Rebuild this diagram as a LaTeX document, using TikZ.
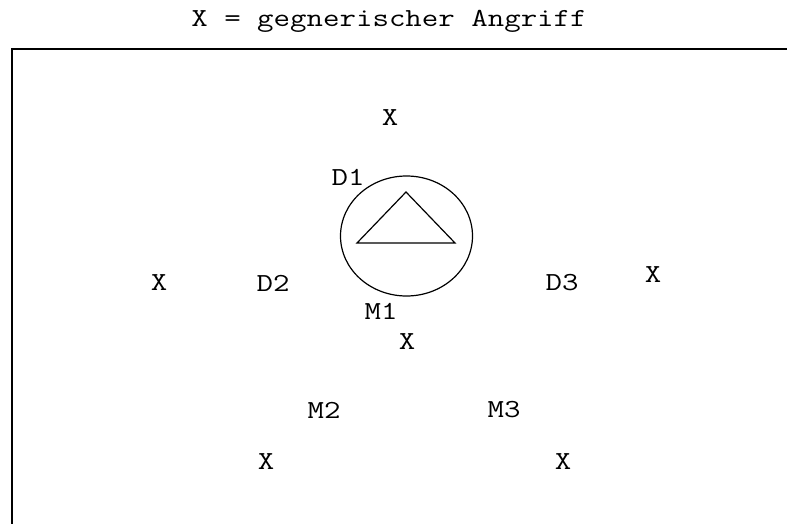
\documentclass[tikz,border=0pt]{standalone}
\usepackage{fontspec}
\setmonofont{Latin Modern Mono}[FakeStretch=1.23]
\begin{document}
\begin{tikzpicture}[x=1pt, y=-1pt]
    \def\labelSize{26}

    \definecolor{borderColour}{HTML}{000000}

    \tikzset{
        mark label/.style={font=\fontsize{\labelSize}{\labelSize}\ttfamily, inner sep=0pt, anchor=center}
    }

    % Page size of the reference
    \useasboundingbox (0,0) rectangle (787,524);
    \clip (0,0) rectangle (787,524);

    % Legend
    \node[mark label] (legend) at (389,21) {X = gegnerischer Angriff};

    % Field border (open to the right and below)
    \draw[draw=borderColour, line width=1.5pt] (12,560) -- (12,49) -- (820,49);

    % Goal circle with triangle
    \coordinate (G) at (406.5,236);
    \draw[draw=borderColour, line width=1.2pt] (G) ellipse [x radius=66, y radius=60];
    \coordinate (A) at (406,192);
    \coordinate (B) at (357,243);
    \coordinate (C) at (455,243);
    \draw[draw=borderColour, line width=1.2pt] (A) -- (B) -- (C) -- cycle;

    % Defenders and midfielders
    \node[mark label] (D1) at (348,177) {D1};
    \node[mark label] (D2) at (273,283) {D2};
    \node[mark label] (D3) at (562,283) {D3};
    \node[mark label] (M1) at (381,311) {M1};
    \node[mark label] (M2) at (324,410) {M2};
    \node[mark label] (M3) at (504,410) {M3};

    % Opposing attacks
    \node[mark label] (X1) at (390,118) {X};
    \node[mark label] (X2) at (159,283) {X};
    \node[mark label] (X3) at (653,275) {X};
    \node[mark label] (X4) at (407,342) {X};
    \node[mark label] (X5) at (266,462) {X};
    \node[mark label] (X6) at (563,462) {X};

\end{tikzpicture}
\end{document}
